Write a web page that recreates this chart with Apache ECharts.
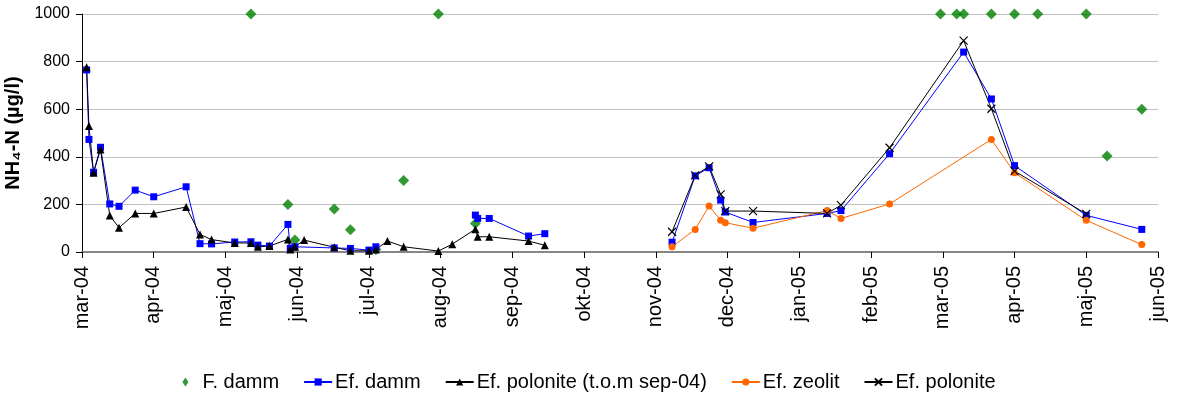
<!DOCTYPE html>
<html><head><meta charset="utf-8">
<script src="https://cdn.jsdelivr.net/npm/echarts/dist/echarts.min.js"></script>
<style>html,body{margin:0;padding:0;background:#fff}#c{width:1178px;height:394px}</style>
</head><body><div id="c"></div>
<script>
// ---- data ----
const monthNames = ['jan','feb','mar','apr','maj','jun','jul','aug','sep','okt','nov','dec'];
const axisStart = '2004-03-01';
const axisEndDays = 465;      // 15 ticks of 31 days
const tickDays = 31;
const yMax = 1000;
const yStep = 200;

const fDammDates = ['2004-05-13','2004-05-29','2004-06-01','2004-06-18','2004-06-25','2004-07-06','2004-07-18','2004-08-02','2004-08-18',
  '2005-03-07','2005-03-14','2005-03-17','2005-03-29','2005-04-08','2005-04-18','2005-05-09','2005-05-18','2005-06-02'];
const fDammValues = [1000,200,50,181,93,10,300,1000,120,1000,1000,1000,1000,1000,1000,1000,403,600];

const efDammDates = ['2004-03-03','2004-03-04','2004-03-06','2004-03-09','2004-03-13','2004-03-17','2004-03-24','2004-04-01','2004-04-15',
  '2004-04-21','2004-04-26','2004-05-06','2004-05-13','2004-05-16','2004-05-21','2004-05-29','2004-05-30','2004-06-01','2004-06-18',
  '2004-06-25','2004-07-03','2004-07-06','2004-08-18','2004-08-19','2004-08-24','2004-09-10','2004-09-17',
  '2004-11-11','2004-11-21','2004-11-27','2004-12-02','2004-12-04','2004-12-16','2005-01-17','2005-01-23','2005-02-13',
  '2005-03-17','2005-03-29','2005-04-08','2005-05-09','2005-06-02'];
const efDammValues = [765,473,335,440,202,192,260,232,274,35,34,42,43,29,25,116,15,22,17,15,8,22,155,141,141,67,77,
  41,320,354,218,168,124,162,174,413,840,643,363,154,95];

const efPolOldDates = ['2004-03-03','2004-03-04','2004-03-06','2004-03-09','2004-03-13','2004-03-17','2004-03-24','2004-04-01','2004-04-15',
  '2004-04-21','2004-04-26','2004-05-06','2004-05-13','2004-05-16','2004-05-21','2004-05-29','2004-05-30','2004-06-01','2004-06-05',
  '2004-06-18','2004-06-25','2004-07-03','2004-07-06','2004-07-11','2004-07-18','2004-08-02','2004-08-08','2004-08-18','2004-08-19',
  '2004-08-24','2004-09-10','2004-09-17'];
const efPolOldValues = [776,529,333,431,153,102,162,162,189,74,52,38,38,22,25,53,11,22,50,20,5,5,11,46,22,4,33,96,64,64,46,28];

const efZeolitDates = ['2004-11-11','2004-11-21','2004-11-27','2004-12-02','2004-12-04','2004-12-16','2005-01-17','2005-01-23','2005-02-13',
  '2005-03-29','2005-04-08','2005-05-09','2005-06-02'];
const efZeolitValues = [22,95,193,133,123,100,174,141,202,473,333,133,31];

const efPolDates = ['2004-11-11','2004-11-21','2004-11-27','2004-12-02','2004-12-04','2004-12-16','2005-01-17','2005-01-23','2005-02-13',
  '2005-03-17','2005-03-29','2005-04-08','2005-05-09'];
const efPolValues = [85,322,360,242,172,172,162,197,438,888,602,340,160];

// ---- helpers ----
const DAY = 86400000;
function utc(s){const p=s.split('-').map(Number);return Date.UTC(p[0],p[1]-1,p[2]);}
const t0 = utc(axisStart);
function dayOf(s){return Math.round((utc(s)-t0)/DAY);}
function pairs(dates, vals, breakGap){
  const out=[];
  for(let i=0;i<dates.length;i++){
    const d=dayOf(dates[i]);
    if(breakGap && out.length && d-out[out.length-1][0]>breakGap){
      out.push([(d+out[out.length-1][0])/2,'-']);
    }
    out.push([d,vals[i]]);
  }
  return out;
}
function fmt(v){
  const dt=new Date(t0+v*DAY);
  return monthNames[dt.getUTCMonth()]+'-'+String(dt.getUTCFullYear()%100).padStart(2,'0');
}

const FONT='"Liberation Sans", Arial, sans-serif';
const chart = echarts.init(document.getElementById('c'), null, {renderer:'canvas'});
const lineBase = {type:'line', showAllSymbol:true, connectNulls:false, animation:false, z:3};
chart.setOption({
  animation:false,
  textStyle:{fontFamily:FONT,color:'#000'},
  grid:{left:82,right:20,top:14,bottom:142,containLabel:false,outerBoundsMode:'none'},
  legend:{
    top:367,left:'center',itemWidth:28,itemHeight:9,itemGap:24,
    textStyle:{fontFamily:FONT,fontSize:20,color:'#000',padding:[0,0,0,-2]},
    data:[{name:'F. damm',icon:'path://M4,0L8,6L4,12L0,6Z',itemStyle:{color:'#008000'}},
      'Ef. damm','Ef. polonite (t.o.m sep-04)','Ef. zeolit','Ef. polonite']
  },
  xAxis:{
    type:'value',min:0,max:axisEndDays,interval:tickDays,
    axisLine:{show:true,lineStyle:{color:'#868686',width:2}},
    axisTick:{show:true,length:6,lineStyle:{color:'#000',width:1}},
    splitLine:{show:false},
    axisLabel:{rotate:90,margin:14,fontSize:20,fontFamily:FONT,color:'#000',formatter:fmt}
  },
  yAxis:{
    type:'value',min:0,max:yMax,interval:yStep,
    name:'NH\u2084-N (\u00b5g/l)',nameLocation:'middle',nameGap:47,
    nameTextStyle:{fontSize:20,fontWeight:'bold',fontFamily:FONT,color:'#000'},
    axisLine:{show:true,lineStyle:{color:'#000',width:1}},
    axisTick:{show:true,length:6,lineStyle:{color:'#000'}},
    splitLine:{show:true,lineStyle:{color:'#c0c0c0',width:1}},
    axisLabel:{fontSize:16,fontFamily:FONT,color:'#000',margin:12,formatter:function(v){return String(v);}}
  },
  series:[
    {name:'F. damm',type:'scatter',symbol:'diamond',symbolSize:11,symbolKeepAspect:true,itemStyle:{color:'#008000'},
      data:pairs(fDammDates,fDammValues),z:2,animation:false},
    Object.assign({},lineBase,{name:'Ef. damm',symbol:'rect',symbolSize:7,
      lineStyle:{color:'#0000ff',width:1},itemStyle:{color:'#0000ff'},
      data:pairs(efDammDates,efDammValues,40)}),
    Object.assign({},lineBase,{name:'Ef. polonite (t.o.m sep-04)',symbol:'triangle',symbolSize:8,
      lineStyle:{color:'#000',width:1},itemStyle:{color:'#000'},
      data:pairs(efPolOldDates,efPolOldValues)}),
    Object.assign({},lineBase,{name:'Ef. zeolit',symbol:'circle',symbolSize:7,
      lineStyle:{color:'#ff6600',width:1},itemStyle:{color:'#ff6600',borderWidth:0},
      data:pairs(efZeolitDates,efZeolitValues)}),
    Object.assign({},lineBase,{name:'Ef. polonite',symbol:'path://M0,0L10,10M10,0L0,10',symbolSize:8,
      lineStyle:{color:'#000',width:1},itemStyle:{color:'none',borderColor:'#000',borderWidth:1.2},
      data:pairs(efPolDates,efPolValues)})
  ]
});
</script></body></html>
